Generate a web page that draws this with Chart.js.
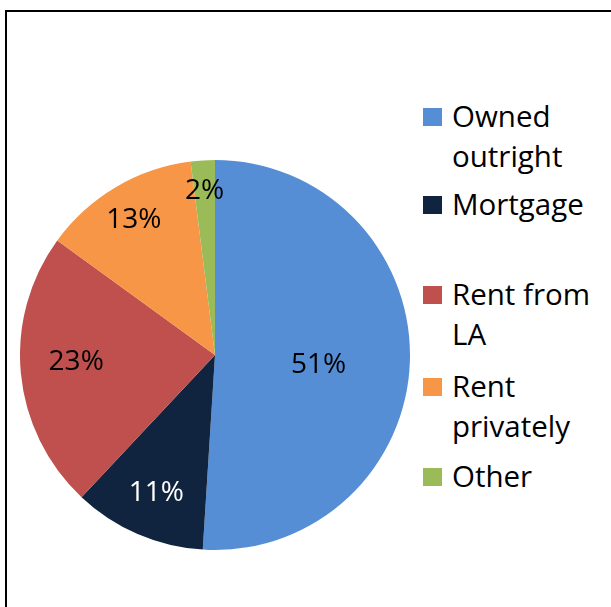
<!DOCTYPE html>
<html>
<head>
<meta charset="utf-8">
<script src="https://cdn.jsdelivr.net/npm/chart.js@4.4.1/dist/chart.umd.min.js"></script>
<style>
  html, body { margin: 0; padding: 0; background: #fff; width: 611px; height: 607px; overflow: hidden; }
  #frame {
    position: absolute; left: 5px; top: 10px; width: 640px; height: 640px;
    border: 2px solid #000; box-sizing: border-box;
  }
  #pie { position: absolute; left: 20px; top: 160px; }
  #legend { position: absolute; left: 0; top: 0; font-family: "Open Sans", sans-serif; font-size: 29.5px; color: #000; }
  .item { position: absolute; left: 423px; white-space: nowrap; }
  .box { position: absolute; left: 0; top: 12px; width: 19px; height: 18px; }
  .txt { position: absolute; left: 29px; line-height: 40px; }
</style>
</head>
<body>
<div id="frame"></div>
<canvas id="pie" width="390" height="390"></canvas>
<div id="legend"></div>
<script>
// Dados do gráfico
const categorias = ['Owned outright', 'Mortgage', 'Rent from LA', 'Rent privately', 'Other']
const legendaLinhas = [['Owned', 'outright'], ['Mortgage'], ['Rent from', 'LA'], ['Rent', 'privately'], ['Other']]
const valores = [51, 11, 23, 13, 2]

const cores = ['#558ED5', '#10243F', '#C0504D', '#F79646', '#9BBB59']
const coresRotulo = ['#000', '#fff', '#000', '#000', '#000']
// distância do rótulo em fração do raio, e ajuste vertical (px)
const raioRotulo = [0.531, 0.759, 0.715, 0.818, 0.853]
const ajusteRotulo = [5, 0, -8, 0, 0]
// topo de cada item da legenda (px)
const topoLegenda = [96, 184, 274, 366, 456]

const FONTE = '"Open Sans", sans-serif'

// Plugin dos rótulos de porcentagem
const rotulos = {
  id: 'rotulos',
  afterDatasetsDraw(chart) {
    const ctx = chart.ctx
    const meta = chart.getDatasetMeta(0)
    ctx.save()
    ctx.font = '28px ' + FONTE
    ctx.textAlign = 'center'
    ctx.textBaseline = 'alphabetic'
    meta.data.forEach((arc, i) => {
      const p = arc.getProps(['x', 'y', 'startAngle', 'endAngle', 'outerRadius'], true)
      const meio = (p.startAngle + p.endAngle) / 2
      const r = p.outerRadius * raioRotulo[i]
      ctx.fillStyle = coresRotulo[i]
      ctx.fillText(valores[i] + '%', p.x + Math.cos(meio) * r, p.y + Math.sin(meio) * r + ajusteRotulo[i] + 10)
    })
    ctx.restore()
  }
}

const grafico = new Chart(document.getElementById('pie'), {
  type: 'pie',
  data: {
    labels: categorias,
    datasets: [{
      data: valores,
      backgroundColor: cores,
      borderWidth: 0
    }]
  },
  options: {
    responsive: false,
    animation: false,
    layout: { padding: 0 },
    plugins: {
      legend: { display: false },
      tooltip: { enabled: false }
    }
  },
  plugins: [rotulos]
})

// Legenda em HTML
const legenda = document.getElementById('legend')
categorias.forEach((c, i) => {
  const item = document.createElement('div')
  item.className = 'item'
  item.style.top = topoLegenda[i] + 'px'
  const box = document.createElement('div')
  box.className = 'box'
  box.style.background = cores[i]
  const txt = document.createElement('div')
  txt.className = 'txt'
  txt.innerHTML = legendaLinhas[i].join('<br>')
  item.appendChild(box)
  item.appendChild(txt)
  legenda.appendChild(item)
})
</script>
</body>
</html>
